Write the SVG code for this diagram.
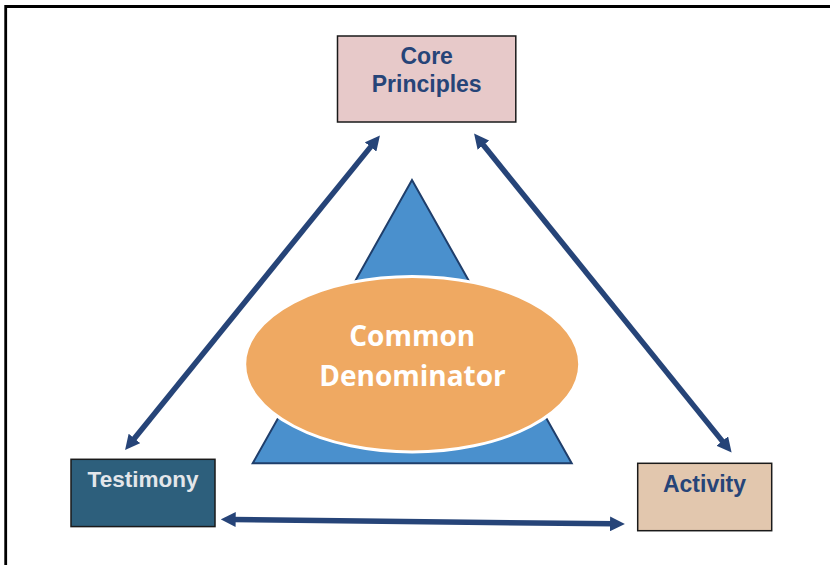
<svg xmlns="http://www.w3.org/2000/svg" width="830" height="565" viewBox="0 0 830 565">
  <style>
    .box { stroke: #1a1a1a; stroke-width: 1.5; }
    .lbl { font-family: "Liberation Sans", Arial, sans-serif; font-weight: bold; text-anchor: middle; }
    .navy { fill: #264478; }
    .conn { stroke: #264478; stroke-width: 5.5; fill: none; marker-start: url(#head); marker-end: url(#head); }
    .center { font-family: "Open Sans", "Liberation Sans", sans-serif; font-weight: bold; font-size: 28px; fill: #ffffff; text-anchor: middle; }
  </style>
  <defs>
    <marker id="head" viewBox="0 0 10 10" refX="2" refY="5" markerWidth="2.7" markerHeight="2.7" orient="auto-start-reverse">
      <path d="M0,0 L10,5 L0,10 z" fill="#264478"/>
    </marker>
  </defs>
  <rect width="830" height="565" fill="#ffffff"/>
  <g id="frame">
    <path d="M5.7,565 L5.7,6.5 L830,6.5" fill="none" stroke="#000000" stroke-width="2.8"/>
  </g>
  <g id="common-denominator">
    <polygon points="412,180 252.7,463.3 571.7,463.3" fill="#4A90CD" stroke="#1F3E6B" stroke-width="2"/>
    <ellipse cx="412.2" cy="364.2" rx="167.5" ry="87.8" fill="#EFA962" stroke="#ffffff" stroke-width="3"/>
    <text class="center" x="412.2" y="345.7">Common</text>
    <text class="center" x="412.5" y="386">Denominator</text>
  </g>
  <g id="connectors">
    <path class="conn" d="M372.45,144.62 L132.55,440.68"/>
    <path class="conn" d="M481.54,142.84 L724.16,443.36"/>
    <path class="conn" d="M232.7,519.44 L613,523.86"/>
  </g>
  <g id="core-principles">
    <rect class="box" x="337.5" y="36" width="178.3" height="86" fill="#E7C9C9"/>
    <text class="lbl navy" x="426.7" y="64.3" font-size="23">Core</text>
    <text class="lbl navy" x="426.7" y="91.5" font-size="23">Principles</text>
  </g>
  <g id="testimony">
    <rect class="box" x="71" y="459.3" width="144" height="67.3" fill="#2D5F7C"/>
    <text class="lbl" x="143" y="486.7" font-size="22.5" fill="#E3E6EA">Testimony</text>
  </g>
  <g id="activity">
    <rect class="box" x="637.7" y="463.3" width="134" height="67.4" fill="#E2C7AE"/>
    <text class="lbl navy" x="704.5" y="491.7" font-size="23">Activity</text>
  </g>
</svg>
